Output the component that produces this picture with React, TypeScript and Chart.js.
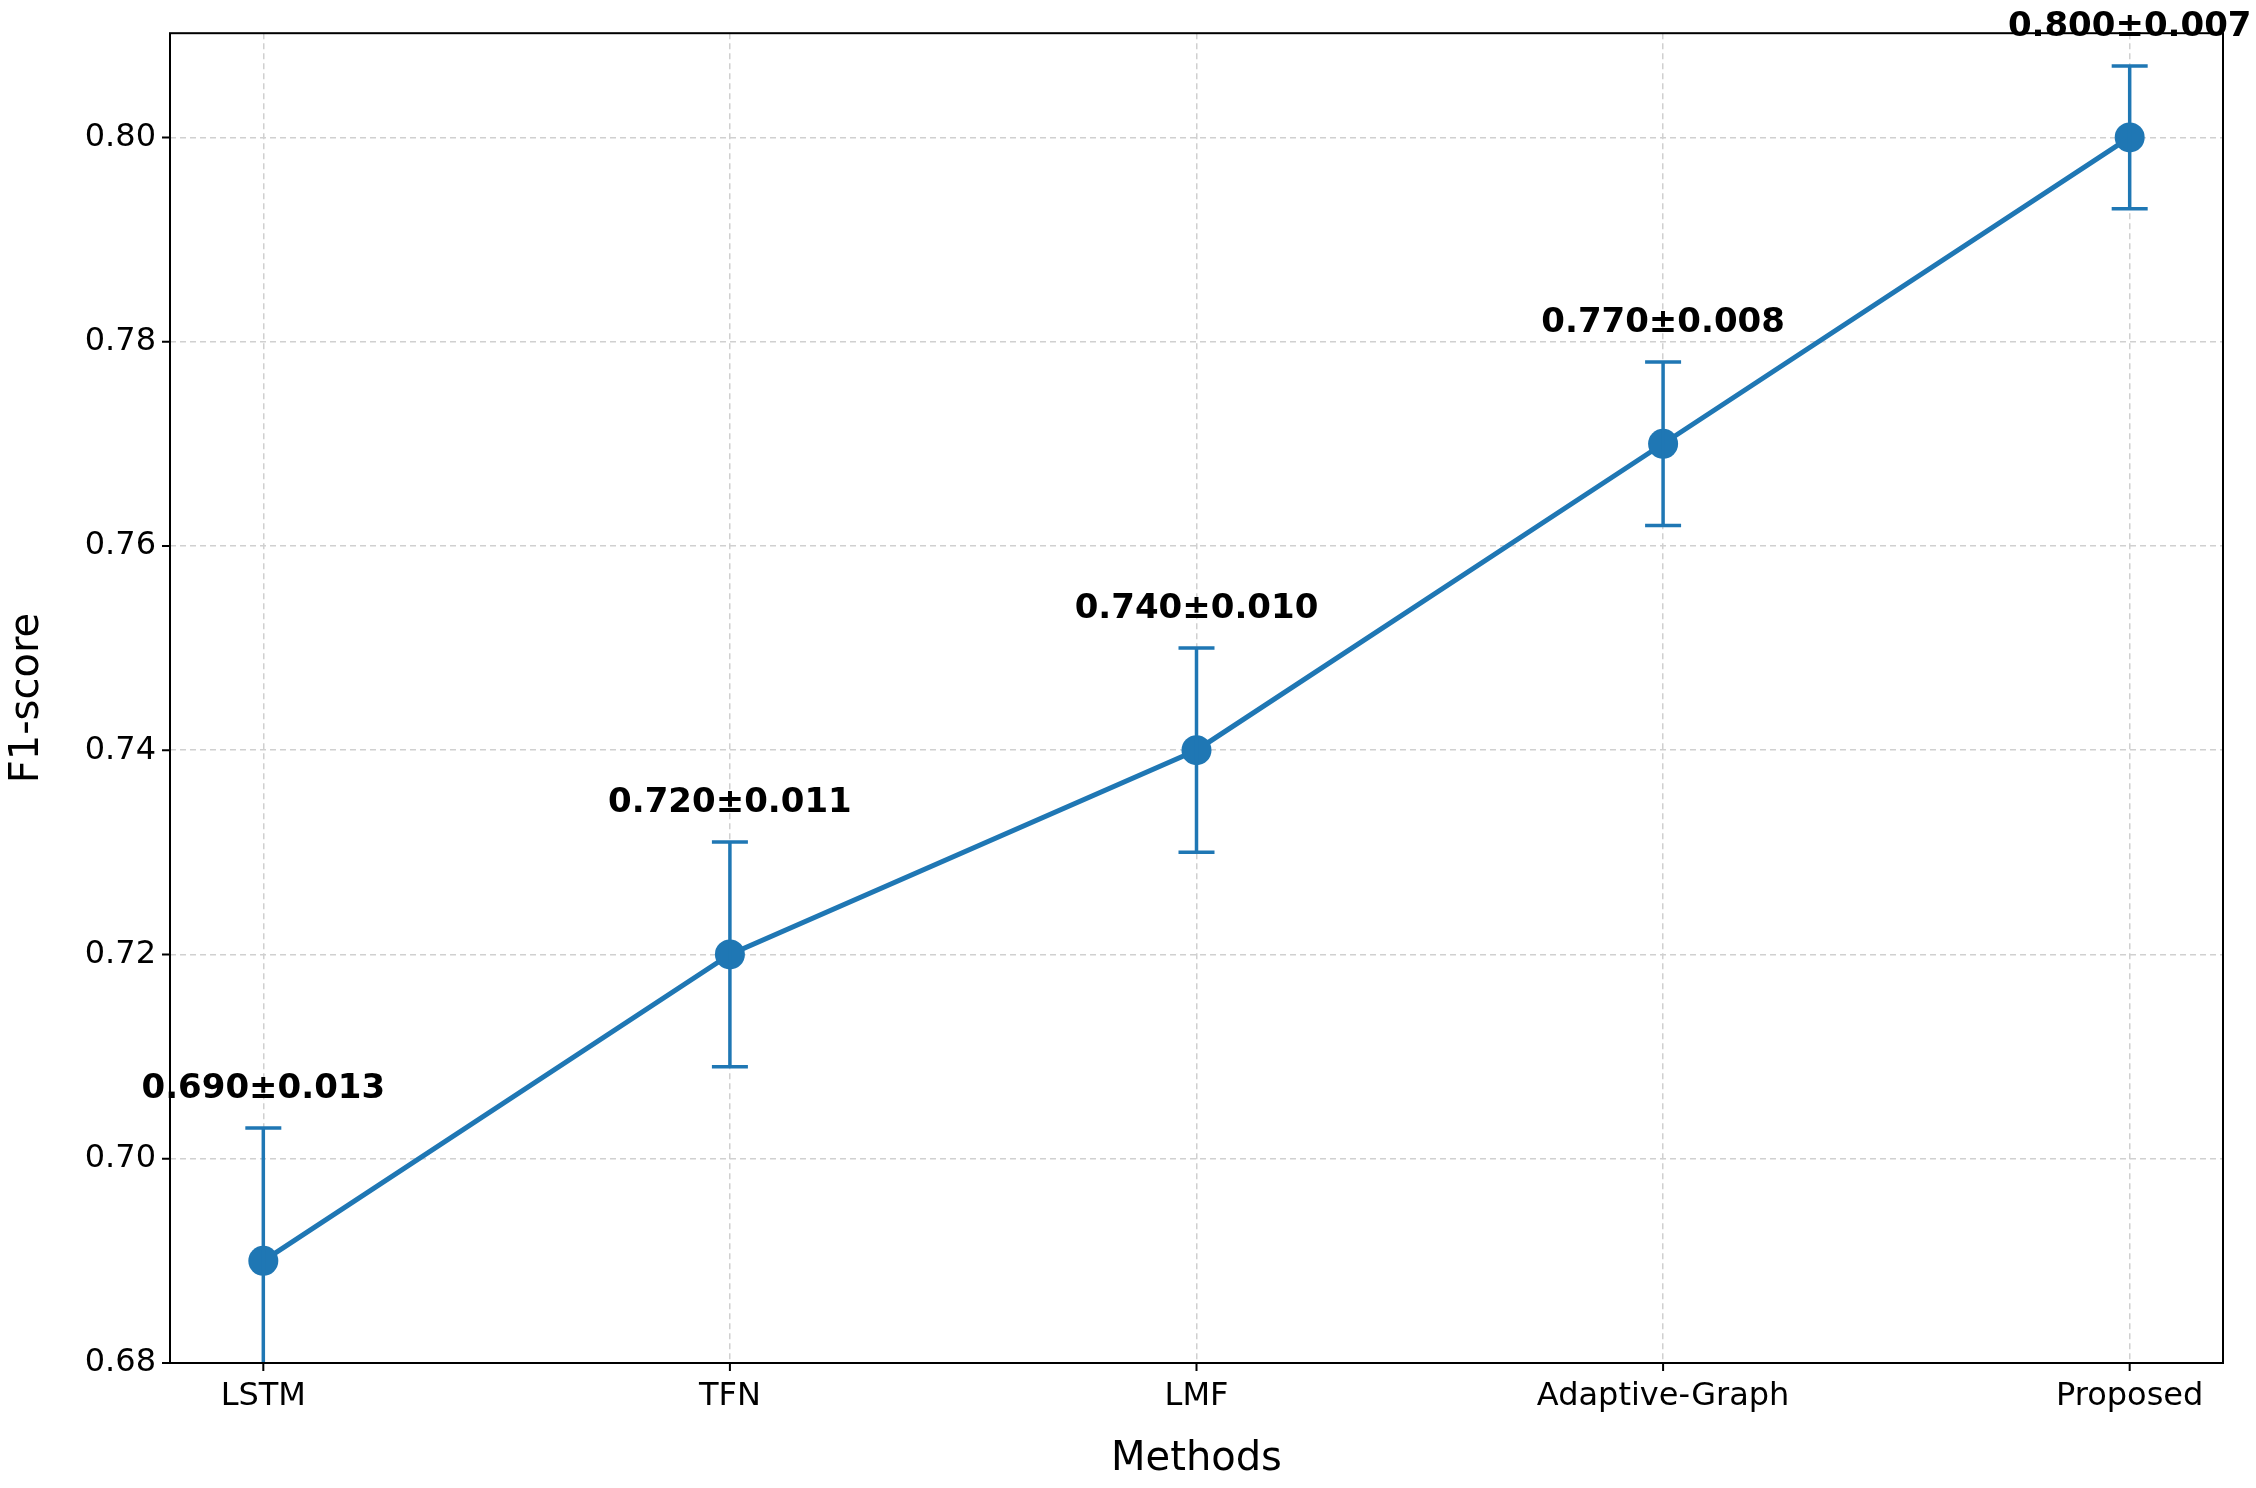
import React, { useEffect, useRef } from "react";
import { Chart, registerables } from "chart.js";
Chart.register(...registerables);

const methods = ["LSTM", "TFN", "LMF", "Adaptive-Graph", "Proposed"];
const f1Means = [0.69, 0.72, 0.74, 0.77, 0.8];
const f1Errors = [0.013, 0.011, 0.01, 0.008, 0.007];
const yTicks = [0.68, 0.7, 0.72, 0.74, 0.76, 0.78, 0.8];

const BLUE = "#1f77b4";
const FONT = "'DejaVu Sans', sans-serif";

const overlay = {
  id: "overlay",
  afterDatasetsDraw(chart: any) {
    const { ctx, chartArea: a, scales } = chart;
    const x = scales.x, y = scales.y;
    ctx.save();
    ctx.save();
    ctx.beginPath();
    ctx.rect(a.left, a.top, a.right - a.left, a.bottom - a.top);
    ctx.clip();
    ctx.strokeStyle = BLUE;
    ctx.lineWidth = 3.5;
    f1Means.forEach((m, i) => {
      const px = x.getPixelForValue(i);
      const top = y.getPixelForValue(m + f1Errors[i]);
      const bot = y.getPixelForValue(m - f1Errors[i]);
      ctx.beginPath();
      ctx.moveTo(px, top); ctx.lineTo(px, bot);
      ctx.moveTo(px - 18, top); ctx.lineTo(px + 18, top);
      ctx.moveTo(px - 18, bot); ctx.lineTo(px + 18, bot);
      ctx.stroke();
    });
    ctx.restore();
    ctx.fillStyle = "#000";
    ctx.font = `bold 34px ${FONT}`;
    ctx.textAlign = "center";
    ctx.textBaseline = "bottom";
    f1Means.forEach((m, i) => {
      const px = x.getPixelForValue(i);
      const top = y.getPixelForValue(m + f1Errors[i]);
      ctx.fillText(`${m.toFixed(3)}±${f1Errors[i].toFixed(3)}`, px, top - 22);
    });
    ctx.strokeStyle = "#000";
    ctx.lineWidth = 2;
    ctx.strokeRect(a.left, a.top, a.right - a.left, a.bottom - a.top);
    ctx.beginPath();
    methods.forEach((_, i) => {
      const px = x.getPixelForValue(i);
      ctx.moveTo(px, a.bottom); ctx.lineTo(px, a.bottom + 8);
    });
    yTicks.forEach((v) => {
      const py = y.getPixelForValue(v);
      ctx.moveTo(a.left, py); ctx.lineTo(a.left - 8, py);
    });
    ctx.stroke();
    ctx.restore();
  },
};

export default function App() {
  const ref = useRef<HTMLCanvasElement>(null);
  useEffect(() => {
    document.body.style.margin = "0";
    const chart = new Chart(ref.current!, {
      type: "line",
      data: {
        datasets: [
          {
            data: f1Means.map((v, i) => ({ x: i, y: v })),
            borderColor: BLUE,
            backgroundColor: BLUE,
            borderWidth: 5,
            pointRadius: 15,
            pointBorderWidth: 0,
            clip: false as any,
          },
        ],
      },
      options: {
        animation: false,
        responsive: false,
        devicePixelRatio: 1,
        layout: { padding: { top: 26, right: 33, left: 0, bottom: 0 } },
        plugins: { legend: { display: false }, tooltip: { enabled: false } },
        scales: {
          x: {
            type: "linear",
            min: -0.2,
            max: 4.2,
            afterBuildTicks: (s: any) => { s.ticks = methods.map((_, i) => ({ value: i })); },
            afterFit: (s: any) => { s.height = 125; },
            ticks: {
              autoSkip: false,
              maxRotation: 0,
              padding: 14,
              color: "#000",
              font: { size: 32, family: FONT },
              callback: (v: any) => methods[v] ?? "",
            },
            grid: { color: "#d0d0d0", lineWidth: 1.5, drawTicks: false },
            border: { display: false, dash: [6, 4] },
            title: { display: true, text: "Methods", color: "#000", font: { size: 40, family: FONT }, padding: { top: 4 } },
          },
          y: {
            min: 0.68,
            max: 0.8102,
            afterBuildTicks: (s: any) => { s.ticks = yTicks.map((v) => ({ value: v })); },
            afterFit: (s: any) => { s.width = 170; },
            ticks: {
              padding: 14,
              color: "#000",
              font: { size: 32, family: FONT },
              callback: (v: any) => Number(v).toFixed(2),
            },
            grid: { color: "#d0d0d0", lineWidth: 1.5, drawTicks: false },
            border: { display: false, dash: [6, 4] },
            title: { display: true, text: "F1-score", color: "#000", font: { size: 40, family: FONT }, padding: { bottom: 4 } },
          },
        },
      },
      plugins: [overlay],
    });
    return () => chart.destroy();
  }, []);
  return <canvas ref={ref} width={2256} height={1488} style={{ display: "block" }} />;
}
